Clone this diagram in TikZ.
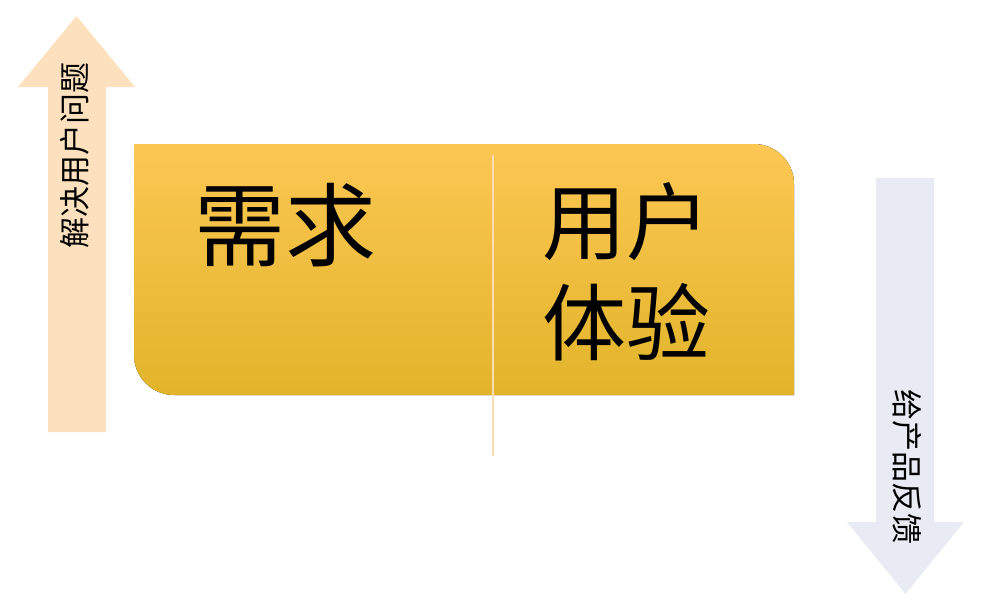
\documentclass[tikz,border=0pt]{standalone}
\usepackage{fontspec}
\newfontfamily\cjk{Noto Sans CJK SC}
\definecolor{uparrow}{HTML}{FDE1BF}
\definecolor{downarrow}{HTML}{E8EAF4}
\definecolor{boxtop}{HTML}{FCC753}
\definecolor{boxmid}{HTML}{FEC42D}
\definecolor{boxbot}{HTML}{E2B42A}
\definecolor{divider}{HTML}{F9DDB5}
\tikzset{
  bigtext/.style={font=\cjk\fontsize{91}{100}\selectfont, inner sep=0pt, align=center},
  midtext/.style={font=\cjk\fontsize{84}{100}\selectfont, inner sep=0pt, align=center},
  sidetext/.style={font=\cjk\fontsize{31}{34}\selectfont, inner sep=0pt},
}
\begin{document}
\begin{tikzpicture}[x=1pt,y=-1pt]
\useasboundingbox (0,0) rectangle (982,610);
% up arrow
\fill[uparrow] (48,432) -- (48,87) -- (18,87) -- (76.5,16) -- (135,87) -- (106,87) -- (106,432) -- cycle;
\node[sidetext, rotate=90] (solve) at (75,155) {解决用户问题};
% down arrow
\fill[downarrow] (876,178) -- (934,178) -- (934,522) -- (964,522) -- (905.5,594) -- (847,522) -- (876,522) -- cycle;
\node[sidetext, rotate=-90] (feedback) at (907,467) {给产品反馈};
% main box
\fill[top color=boxtop, middle color=boxmid, bottom color=boxbot]
  (134,144) -- (754,144) .. controls (776.1,144) and (794,161.9) .. (794,184)
  -- (794,395) -- (174,395) .. controls (151.9,395) and (134,377.1) .. (134,355) -- cycle;
\coordinate (divtop) at (493,155);
\coordinate (divbot) at (493,456);
\draw[divider, line width=1.2pt] (divtop) -- (divbot);
\node[bigtext] (need) at (285,225) {需求};
\node[midtext] (ux1) at (626,222) {用户};
\node[midtext] (ux2) at (626,322) {体验};
\end{tikzpicture}
\end{document}
